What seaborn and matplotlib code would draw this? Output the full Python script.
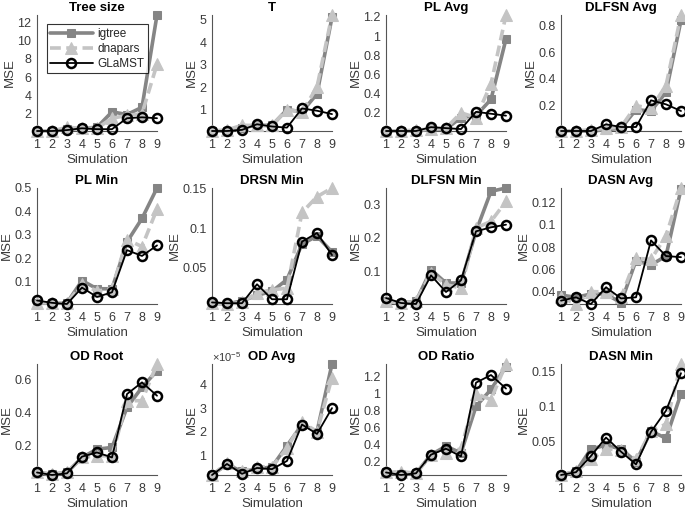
import matplotlib
matplotlib.use("Agg")
import matplotlib.pyplot as plt
import seaborn as sns
import numpy as np
from matplotlib.ticker import FuncFormatter

sims = [1, 2, 3, 4, 5, 6, 7, 8, 9]
methods = ["igtree", "dnapars", "GLaMST"]

titles = ["Tree size", "T", "PL Avg", "DLFSN Avg",
          "PL Min", "DRSN Min", "DLFSN Min", "DASN Avg",
          "OD Root", "OD Avg", "OD Ratio", "DASN Min"]

# MSE values, one row per panel
igtree = [
    [0.1, 0.1, 0.3, 0.4, 0.5, 2.2, 1.9, 2.7, 12.8],
    [0.05, 0.05, 0.2, 0.3, 0.3, 1.0, 0.9, 1.7, 5.1],
    [0.01, 0.01, 0.01, 0.03, 0.03, 0.15, 0.17, 0.34, 0.97],
    [0.01, 0.01, 0.01, 0.02, 0.03, 0.17, 0.16, 0.3, 0.84],
    [0.01, 0.01, 0.01, 0.105, 0.07, 0.07, 0.27, 0.37, 0.5],
    [0.005, 0.004, 0.008, 0.015, 0.02, 0.035, 0.08, 0.09, 0.07],
    [0.01, 0.005, 0.01, 0.105, 0.065, 0.065, 0.22, 0.34, 0.35],
    [0.037, 0.035, 0.038, 0.038, 0.03, 0.068, 0.064, 0.072, 0.132],
    [0.04, 0.03, 0.04, 0.13, 0.18, 0.19, 0.43, 0.55, 0.65],
    [0.15e-5, 0.6e-5, 0.3e-5, 0.4e-5, 0.5e-5, 1.4e-5, 2.3e-5, 2.0e-5, 4.88e-5],
    [0.07, 0.05, 0.06, 0.28, 0.38, 0.3, 0.85, 1.05, 1.32],
    [0.003, 0.008, 0.04, 0.045, 0.04, 0.022, 0.065, 0.055, 0.118],
]
dnapars = [
    [0.1, 0.1, 0.5, 0.4, 0.4, 1.5, 1.8, 2.0, 7.4],
    [0.05, 0.1, 0.3, 0.3, 0.3, 1.0, 0.9, 2.0, 5.2],
    [0.01, 0.01, 0.02, 0.03, 0.04, 0.2, 0.15, 0.5, 1.22],
    [0.01, 0.01, 0.02, 0.03, 0.04, 0.2, 0.18, 0.35, 0.88],
    [0.01, 0.01, 0.01, 0.09, 0.06, 0.07, 0.28, 0.25, 0.41],
    [0.005, 0.004, 0.006, 0.018, 0.022, 0.024, 0.12, 0.14, 0.151],
    [0.01, 0.005, 0.01, 0.095, 0.06, 0.05, 0.23, 0.25, 0.31],
    [0.035, 0.029, 0.04, 0.04, 0.035, 0.07, 0.069, 0.09, 0.133],
    [0.04, 0.03, 0.04, 0.13, 0.14, 0.14, 0.47, 0.47, 0.69],
    [0.15e-5, 0.65e-5, 0.3e-5, 0.5e-5, 0.5e-5, 1.3e-5, 2.4e-5, 2.0e-5, 4.3e-5],
    [0.07, 0.08, 0.06, 0.28, 0.3, 0.35, 1.0, 0.93, 1.35],
    [0.003, 0.008, 0.025, 0.04, 0.038, 0.025, 0.065, 0.075, 0.16],
]
glamst = [
    [0.1, 0.1, 0.2, 0.4, 0.3, 0.3, 1.5, 1.6, 1.5],
    [0.05, 0.05, 0.1, 0.35, 0.25, 0.2, 1.05, 0.95, 0.8],
    [0.01, 0.01, 0.01, 0.05, 0.04, 0.03, 0.21, 0.19, 0.17],
    [0.01, 0.01, 0.01, 0.06, 0.04, 0.04, 0.24, 0.21, 0.16],
    [0.02, 0.01, 0.005, 0.075, 0.035, 0.055, 0.235, 0.21, 0.255],
    [0.006, 0.005, 0.005, 0.029, 0.01, 0.01, 0.083, 0.094, 0.066],
    [0.02, 0.005, 0.002, 0.088, 0.038, 0.073, 0.22, 0.232, 0.24],
    [0.032, 0.035, 0.029, 0.044, 0.034, 0.035, 0.086, 0.072, 0.071],
    [0.04, 0.025, 0.035, 0.135, 0.16, 0.13, 0.51, 0.58, 0.5],
    [0.15e-5, 0.62e-5, 0.2e-5, 0.45e-5, 0.4e-5, 0.75e-5, 2.3e-5, 1.9e-5, 3.0e-5],
    [0.07, 0.04, 0.06, 0.28, 0.35, 0.26, 1.13, 1.22, 1.06],
    [0.003, 0.007, 0.03, 0.056, 0.036, 0.018, 0.064, 0.094, 0.147],
]

yticks = [
    [2, 4, 6, 8, 10, 12],
    [1, 2, 3, 4, 5],
    [0.2, 0.4, 0.6, 0.8, 1.0, 1.2],
    [0.2, 0.4, 0.6, 0.8],
    [0.1, 0.2, 0.3, 0.4, 0.5],
    [0.05, 0.1, 0.15],
    [0.1, 0.2, 0.3],
    [0.04, 0.06, 0.08, 0.1, 0.12],
    [0.2, 0.4, 0.6],
    [1e-5, 2e-5, 3e-5, 4e-5],
    [0.2, 0.4, 0.6, 0.8, 1.0, 1.2],
    [0.05, 0.1, 0.15],
]

sns.set_theme(style="white")
plt.rcParams['font.family'] = ['Liberation Sans', 'DejaVu Sans']
plt.rcParams['mathtext.fontset'] = 'custom'
plt.rcParams['mathtext.rm'] = 'Liberation Sans'

W, H = 685, 513
fig = plt.figure(figsize=(6.85, 5.13), dpi=100)

col_left = [37, 212, 386, 561]
row_top = [15, 188, 364]
row_h = [116, 116, 111]
ax_w = 120

txt = "#3a3a3a"
styles = {
    "igtree": dict(color="#858585", linestyle="-", linewidth=2.6, marker="s",
                   markersize=6, markerfacecolor="#858585", markeredgecolor="#858585"),
    "dnapars": dict(color="#c4c4c4", linestyle="--", linewidth=2.6, marker="^",
                    markersize=8, markerfacecolor="#c4c4c4", markeredgecolor="#c4c4c4",
                    dashes=(3, 1.5)),
    "GLaMST": dict(color="black", linestyle="-", linewidth=1.3, marker="o",
                   markersize=6.5, markerfacecolor="none", markeredgecolor="black",
                   markeredgewidth=1.8),
}

for i, title in enumerate(titles):
    r, c = divmod(i, 4)
    left = col_left[c] / W
    bottom = 1 - (row_top[r] + row_h[r]) / H
    ax = fig.add_axes([left, bottom, ax_w / W, row_h[r] / H])
    series = {"igtree": igtree[i], "dnapars": dnapars[i], "GLaMST": glamst[i]}
    for m in methods:
        st = dict(styles[m])
        dashes = st.pop("dashes", None)
        sns.lineplot(x=sims, y=series[m], ax=ax, label=m, clip_on=False,
                     zorder=3, **st)
        if dashes is not None:
            ax.lines[-1].set_dashes(dashes)
    allv = np.concatenate([igtree[i], dnapars[i], glamst[i]])
    ax.set_xlim(1, 9)
    ax.set_ylim(allv.min(), allv.max())
    ax.set_xticks(sims)
    ax.set_yticks(yticks[i])
    if title == "OD Avg":
        ax.yaxis.set_major_formatter(FuncFormatter(lambda v, p: "%g" % (v * 1e5)))
        ax.text(0.0, 1.0, r"$\times10^{-5}$", transform=ax.transAxes,
                fontsize=8, color=txt, ha="left", va="bottom")
    else:
        ax.yaxis.set_major_formatter(FuncFormatter(lambda v, p: "%g" % v))
    ax.set_title(title, fontsize=9.5, fontweight="bold", color="black", pad=3)
    ax.set_xlabel("Simulation", fontsize=9.5, color=txt, labelpad=2)
    ax.set_ylabel("MSE", fontsize=9.5, color=txt, labelpad=1)
    ax.tick_params(direction="in", length=3, width=0.6, labelsize=9,
                   colors=txt)
    ax.tick_params(axis="x", pad=6)
    ax.tick_params(axis="y", pad=4)
    for s in ["top", "right"]:
        ax.spines[s].set_visible(False)
    for s in ["left", "bottom"]:
        ax.spines[s].set_color("#555555")
        ax.spines[s].set_linewidth(0.8)
    if i == 0:
        leg = ax.legend(loc="upper left", bbox_to_anchor=(0.08, 0.92),
                        fontsize=8.5, frameon=True, fancybox=False,
                        handlelength=3.6, borderpad=0.3, labelspacing=0.25,
                        handletextpad=0.4, borderaxespad=0.0)
        leg.get_frame().set_edgecolor("black")
        leg.get_frame().set_linewidth(0.8)
    else:
        ax.get_legend().remove() if ax.get_legend() else None

fig.savefig("out.png", dpi=100)
